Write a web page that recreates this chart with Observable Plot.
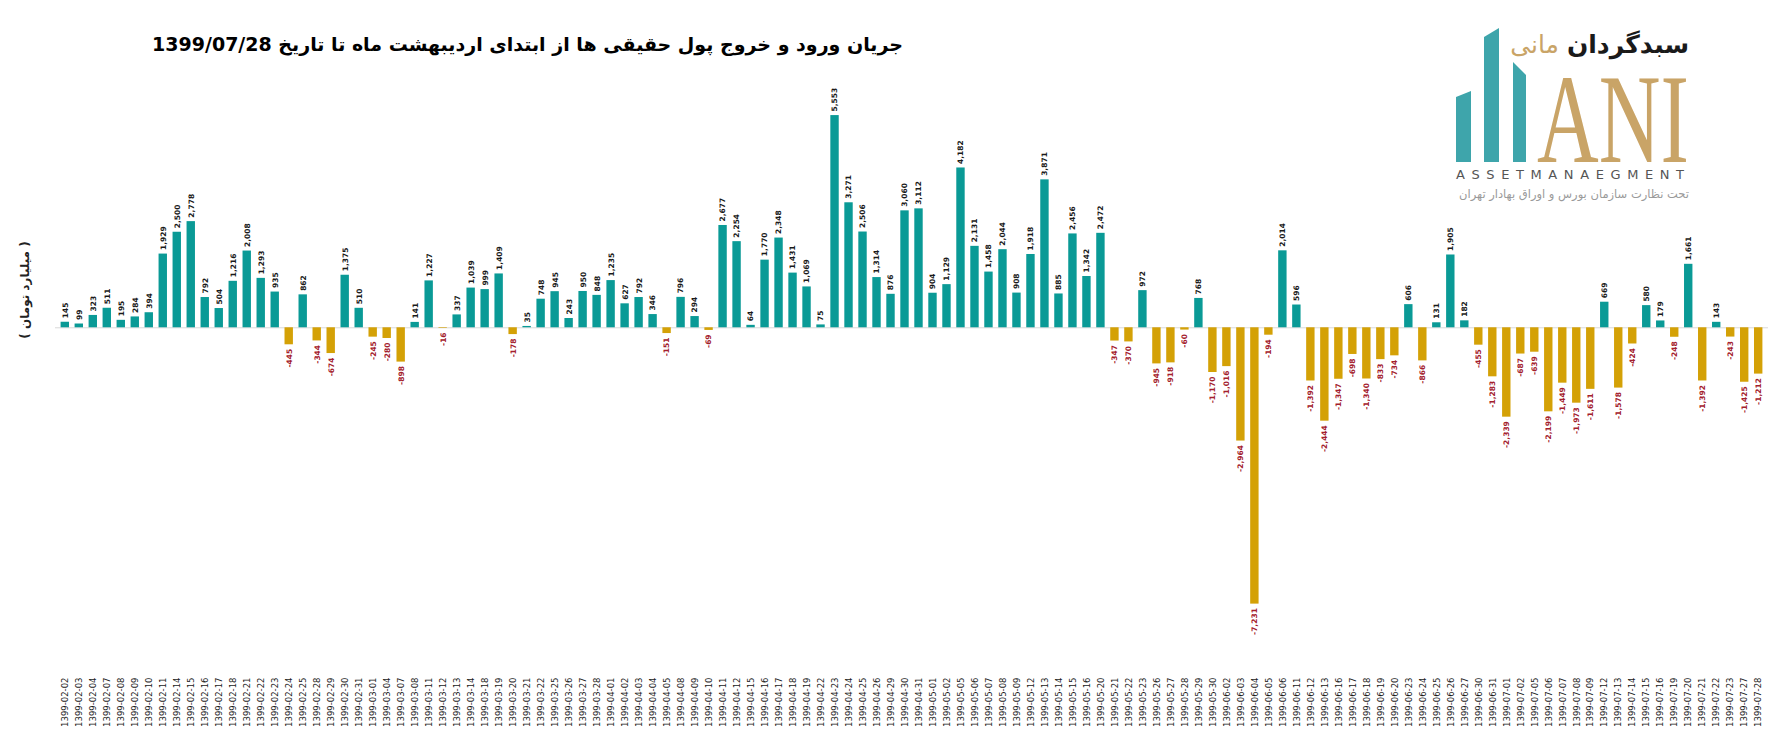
<!DOCTYPE html>
<html>
<head>
<meta charset="utf-8">
<script src="https://cdn.jsdelivr.net/npm/d3@7"></script>
<script src="https://cdn.jsdelivr.net/npm/@observablehq/plot@0.6"></script>
<style>
  html, body { margin: 0; padding: 0; background: #fff; }
  #wrap { position: relative; width: 1775px; height: 743px; overflow: hidden; background: #fff; }
  #chart { position: absolute; left: 0; top: 0; }
  #title { position: absolute; top: 35px; right: 872px; direction: rtl; white-space: nowrap;
           font-family: "DejaVu Sans", sans-serif; font-weight: bold; font-size: 19px; line-height: 19px; color: #000; }
  #ylabel { position: absolute; left: 25px; top: 290px; transform: translate(-50%, -50%) rotate(-90deg);
            direction: rtl; white-space: nowrap; font-family: "DejaVu Sans", sans-serif; font-weight: bold;
            font-size: 12px; color: #222; }
  #logo { position: absolute; left: 1440px; top: 15px; }
  .logotxt { position: absolute; right: 86px; direction: rtl; white-space: nowrap; font-family: "DejaVu Sans", sans-serif; }
  #brand { top: 30px; font-size: 25px; line-height: 30px; }
  #brand .b1 { color: #1a1a1a; font-weight: bold; }
  #brand .b2 { color: #c9a467; }
  #am { position: absolute; left: 1456px; top: 168px; font-family: "DejaVu Sans", sans-serif; font-size: 13px;
        line-height: 14px; letter-spacing: 6.6px; color: #555; white-space: nowrap; }
  #sub { top: 187px; font-size: 11.5px; line-height: 15px; color: #9a9a9a; }
</style>
</head>
<body>
<div id="wrap">
  <div id="chart"></div>
  <div id="title">جریان ورود و خروج پول حقیقی ها از ابتدای اردیبهشت ماه تا تاریخ 1399/07/28</div>
  <div id="ylabel">( میلیارد تومان )</div>
  <svg id="logo" width="330" height="160" viewBox="0 0 330 160">
    <polygon points="16,82 31,76 31,147 16,147" fill="#3ea5ab"/>
    <polygon points="44,22 59,13 59,147 44,147" fill="#3ea5ab"/>
    <polygon points="73,47 86,60 86,147 73,147" fill="#3ea5ab"/>
    <text transform="translate(97,147) scale(0.668,1)" font-family="Liberation Serif, serif" font-size="128" fill="#c9a467">ANI</text>
  </svg>
  <div id="brand" class="logotxt"><span class="b1">سبدگردان</span> <span class="b2">مانی</span></div>
  <div id="am">ASSETMANAEGMENT</div>
  <div id="sub" class="logotxt">تحت نظارت سازمان بورس و اوراق بهادار تهران</div>
</div>
<script>
const dates = [
  "1399-02-02","1399-02-03","1399-02-04","1399-02-07","1399-02-08","1399-02-09","1399-02-10","1399-02-11",
  "1399-02-14","1399-02-15","1399-02-16","1399-02-17","1399-02-18","1399-02-21","1399-02-22","1399-02-23",
  "1399-02-24","1399-02-25","1399-02-28","1399-02-29","1399-02-30","1399-02-31",
  "1399-03-01","1399-03-04","1399-03-07","1399-03-08","1399-03-11","1399-03-12","1399-03-13","1399-03-14",
  "1399-03-18","1399-03-19","1399-03-20","1399-03-21","1399-03-22","1399-03-25","1399-03-26","1399-03-27","1399-03-28",
  "1399-04-01","1399-04-02","1399-04-03","1399-04-04","1399-04-05","1399-04-08","1399-04-09","1399-04-10",
  "1399-04-11","1399-04-12","1399-04-15","1399-04-16","1399-04-17","1399-04-18","1399-04-19","1399-04-22",
  "1399-04-23","1399-04-24","1399-04-25","1399-04-26","1399-04-29","1399-04-30","1399-04-31",
  "1399-05-01","1399-05-02","1399-05-05","1399-05-06","1399-05-07","1399-05-08","1399-05-09","1399-05-12",
  "1399-05-13","1399-05-14","1399-05-15","1399-05-16","1399-05-20","1399-05-21","1399-05-22","1399-05-23",
  "1399-05-26","1399-05-27","1399-05-28","1399-05-29","1399-05-30",
  "1399-06-02","1399-06-03","1399-06-04","1399-06-05","1399-06-06","1399-06-11","1399-06-12","1399-06-13",
  "1399-06-16","1399-06-17","1399-06-18","1399-06-19","1399-06-20","1399-06-23","1399-06-24","1399-06-25",
  "1399-06-26","1399-06-27","1399-06-30","1399-06-31",
  "1399-07-01","1399-07-02","1399-07-05","1399-07-06","1399-07-07","1399-07-08","1399-07-09","1399-07-12",
  "1399-07-13","1399-07-14","1399-07-15","1399-07-16","1399-07-19","1399-07-20","1399-07-21","1399-07-22",
  "1399-07-23","1399-07-27","1399-07-28"
];
const values = [
  145, 99, 323, 511, 195, 284, 394, 1929,
  2500, 2778, 792, 504, 1216, 2008, 1293, 935,
  -445, 862, -344, -674, 1375, 510,
  -245, -280, -898, 141, 1227, -16, 337, 1039,
  999, 1409, -178, 35, 748, 945, 243, 950, 848,
  1235, 627, 792, 346, -151, 796, 294, -69,
  2677, 2254, 64, 1770, 2348, 1431, 1069, 75,
  5553, 3271, 2506, 1314, 876, 3060, 3112,
  904, 1129, 4182, 2131, 1458, 2044, 908, 1918,
  3871, 885, 2456, 1342, 2472, -347, -370, 972,
  -945, -918, -60, 768, -1170,
  -1016, -2964, -7231, -194, 2014, 596, -1392, -2444,
  -1347, -698, -1340, -833, -734, 606, -866, 131,
  1905, 182, -455, -1283,
  -2339, -687, -639, -2199, -1449, -1973, -1611, 669,
  -1578, -424, 580, 179, -248, 1661, -1392, 143,
  -243, -1425, -1212
];

const data = dates.map((d, i) => ({date: d, value: values[i]}));
const fmt = d3.formatLocale({decimal: ".", thousands: ",", grouping: [3], currency: ["", ""], minus: "-"}).format(",");
const pos = data.filter(d => d.value >= 0);
const neg = data.filter(d => d.value < 0);

const chart = Plot.plot({
  width: 1775,
  height: 743,
  marginLeft: 55,
  marginRight: 7,
  marginTop: 98,
  marginBottom: 110,
  style: {background: "transparent", fontFamily: "DejaVu Sans, sans-serif"},
  x: {domain: dates, padding: 0.4, axis: null},
  y: {domain: [-8000, 6000], axis: null},
  marks: [
    Plot.ruleY([0], {stroke: "#d9d9d9", strokeWidth: 1}),
    Plot.barY(data, {x: "date", y: "value", fill: d => d.value >= 0 ? "#0a9a96" : "#d4a106"}),
    Plot.text(pos, {x: "date", y: "value", text: d => fmt(d.value), rotate: -90, textAnchor: "start",
                    dy: -4, fontSize: 7.5, fontWeight: "bold", fill: "#1a1a1a"}),
    Plot.text(neg, {x: "date", y: "value", text: d => fmt(d.value), rotate: -90, textAnchor: "end",
                    dy: 4, fontSize: 7.5, fontWeight: "bold", fill: "#a3202c"}),
    Plot.axisX({tickSize: 0, tickPadding: 44, tickRotate: -90, fontSize: 8.5, fill: "#1a1a1a", label: null})
  ]
});
document.getElementById("chart").appendChild(chart);
</script>
</body>
</html>
